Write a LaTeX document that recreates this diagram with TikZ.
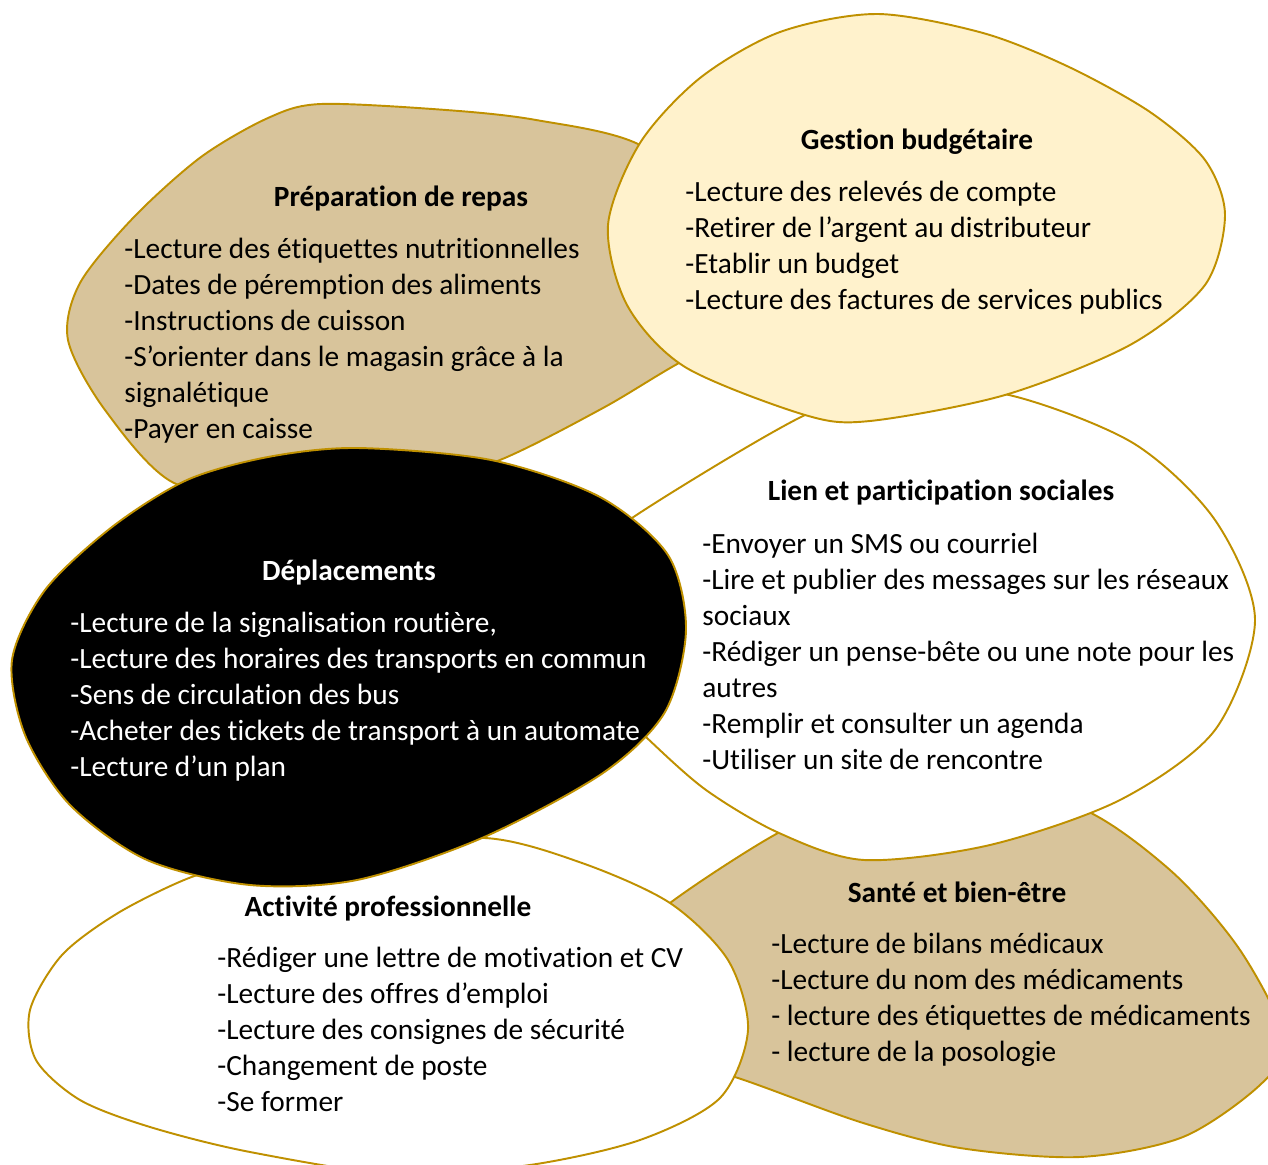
\documentclass[tikz,border=0pt]{standalone}
\usepackage{fontspec}
\setmainfont{Carlito}[Ligatures=NoCommon]

\definecolor{goldline}{HTML}{BF9000}
\definecolor{tanfill}{HTML}{D8C49B}
\definecolor{creamfill}{HTML}{FFF2CC}
\newcommand{\blobfont}{\fontsize{16.7}{20.5}\selectfont}

\begin{document}
\begin{tikzpicture}[
  x=0.02cm, y=-0.02cm,
  blob/.style={draw=goldline, line width=1.1pt},
  title/.style={font=\blobfont\bfseries, anchor=base, inner sep=0pt},
  items/.style={font=\blobfont, align=left, anchor=north west, inner sep=0pt}
]
\useasboundingbox (0,0) rectangle (1268,1165);

% blobs, back to front
\draw[blob, fill=tanfill] plot[smooth cycle] coordinates {
  (321,104) (446,110) (536,120) (640,145) (730,220) (770,316) (679,363)
  (603,408) (500,460) (400,490) (280,495) (174,483) (105,410)
  (68,340) (80,283) (134,217) (201,157) (268,118)};
\draw[blob, fill=tanfill] plot[smooth cycle] coordinates {
  (670,903) (778,833) (860,800) (960,798) (1077,807) (1170,870) (1240,950)
  (1285,1040) (1260,1085) (1183,1137) (1080,1157) (960,1148) (860,1122)
  (738,1078) (640,1050) (610,960)};
\draw[blob, fill=white] plot[smooth cycle] coordinates {
  (189,878) (118,913) (62,955) (30,1010) (36,1060) (80,1100) (150,1127)
  (250,1152) (400,1175) (530,1165) (640,1140) (720,1098) (748,1030)
  (728,960) (670,903) (582,863) (485,838) (350,850) (250,862)};
\draw[blob, fill=white] plot[smooth cycle] coordinates {
  (632,518) (805,415) (900,390) (1009,395) (1133,443) (1215,520)
  (1255,620) (1215,730) (1120,800) (990,845) (864,860) (779,833)
  (706,790) (647,738) (610,700) (600,640) (590,560)};
\draw[blob, fill=creamfill] plot[smooth cycle] coordinates {
  (877,14) (983,33) (1069,67) (1150,112) (1205,160) (1225,215)
  (1205,285) (1130,345) (1005,395) (870,421) (805,415) (685,367)
  (627,305) (608,225) (640,143) (700,78) (780,32)};
\draw[blob, fill=black] plot[smooth cycle] coordinates {
  (268,457) (357,448) (491,460) (600,497) (668,555) (686,630)
  (665,712) (603,773) (482,838) (357,880) (250,885) (147,860)
  (70,805) (25,735) (12,660) (45,590) (112,527) (187,480)};

% texts
\node[title] (repas) at (401,207) {Préparation de repas};
\node[items] (repaslist) at (124,238) {-Lecture des étiquettes nutritionnelles\\
  -Dates de péremption des aliments\\-Instructions de cuisson\\
  -S’orienter dans le magasin grâce à la\\signalétique\\-Payer en caisse};

\node[title] (budget) at (917,150) {Gestion budgétaire};
\node[items] (budgetlist) at (685,181) {-Lecture des relevés de compte\\
  -Retirer de l’argent au distributeur\\-Etablir un budget\\
  -Lecture des factures de services publics};

\node[title] (lien) at (941,501) {Lien et participation sociales};
\node[items] (lienlist) at (702,533) {-Envoyer un SMS ou courriel\\
  -Lire et publier des messages sur les réseaux\\sociaux\\
  -Rédiger un pense-bête ou une note pour les\\autres\\
  -Remplir et consulter un agenda\\-Utiliser un site de rencontre};

\node[title, text=white] (trajets) at (349,581) {Déplacements};
\node[items, text=white] (trajetslist) at (70,612) {-Lecture de la signalisation routière,\\
  -Lecture des horaires des transports en commun\\-Sens de circulation des bus\\
  -Acheter des tickets de transport à un automate\\-Lecture d’un plan};

\node[title] (travail) at (388,916) {Activité professionnelle};
\node[items] (travaillist) at (217,947) {-Rédiger une lettre de motivation et CV\\
  -Lecture des offres d’emploi\\-Lecture des consignes de sécurité\\
  -Changement de poste\\-Se former};

\node[title] (sante) at (957,902) {Santé et bien-être};
\node[items] (santelist) at (771,933) {-Lecture de bilans médicaux\\
  -Lecture du nom des médicaments\\- lecture des étiquettes de médicaments\\
  - lecture de la posologie};
\end{tikzpicture}
\end{document}
